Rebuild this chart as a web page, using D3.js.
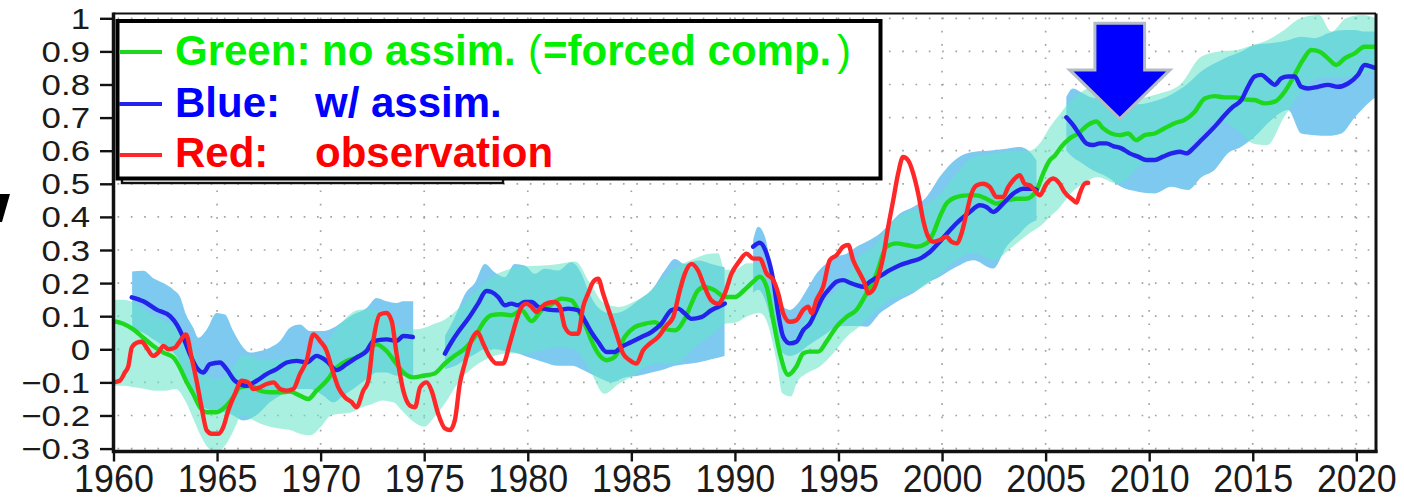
<!DOCTYPE html>
<html>
<head>
<meta charset="utf-8">
<script src="https://cdn.jsdelivr.net/npm/d3@7"></script>
<style>
  html, body { margin: 0; padding: 0; background: #fff; }
  svg { display: block; }
</style>
</head>
<body>
<svg id="chart" width="1404" height="501"></svg>
<script>
// ---------------- data ----------------
const xTicks = [1960, 1965, 1970, 1975, 1980, 1985, 1990, 1995, 2000, 2005, 2010, 2015, 2020];
const yTicks = [-0.3, -0.2, -0.1, 0, 0.1, 0.2, 0.3, 0.4, 0.5, 0.6, 0.7, 0.8, 0.9, 1.0];

// Green: no assimilation (forced component), ensemble mean
const greenYears = [1960.0,1960.47,1960.96,1961.44,1961.92,1962.41,1962.89,1963.2,1963.5,1963.85,
  1964.17,1964.5,1964.98,1965.38,1965.78,1966.1,1966.6,1967.07,1967.55,1968.04,
  1968.52,1969.0,1969.4,1969.8,1970.29,1970.77,1971.25,1971.73,1972.22,1972.7,
  1973.18,1973.67,1973.99,1974.47,1974.95,1975.5,1976.0,1976.5,1976.96,1977.44,
  1977.93,1978.25,1978.73,1979.21,1979.7,1980.18,1980.66,1981.14,1981.63,1982.11,
  1982.43,1982.75,1983.07,1983.4,1983.8,1984.2,1984.68,1985.16,1985.65,1986.13,
  1986.61,1987.1,1987.58,1987.9,1988.22,1988.54,1989.03,1989.51,1990.0,1990.47,
  1990.88,1991.2,1991.53,1991.85,1992.17,1992.57,1992.97,1993.3,1993.62,1994.02,
  1994.42,1994.9,1995.39,1995.87,1996.35,1996.84,1997.32,1997.8,1998.28,1998.77,
  1999.25,1999.57,1999.89,2000.21,2000.7,2001.18,2001.66,2002.14,2002.63,2003.11,
  2003.59,2004.07,2004.56,2004.88,2005.2,2005.44,2005.76,2006.16,2006.57,2007.05,
  2007.45,2007.77,2008.17,2008.58,2008.98,2009.38,2009.78,2010.27,2010.75,2011.23,
  2011.71,2012.2,2012.68,2013.16,2013.64,2014.13,2014.61,2015.09,2015.58,2016.06,
  2016.54,2017.02,2017.42,2017.83,2018.23,2018.63,2019.03,2019.44,2019.92,2020.4,
  2020.95];
const greenValues = [0.085,0.077,0.06,0.035,0.01,-0.01,-0.025,-0.055,-0.095,-0.135,
  -0.175,-0.19,-0.19,-0.175,-0.145,-0.115,-0.11,-0.125,-0.13,-0.13,
  -0.128,-0.14,-0.15,-0.125,-0.095,-0.055,-0.035,-0.025,-0.005,0.015,
  -0.005,-0.045,-0.07,-0.085,-0.08,-0.073,-0.043,-0.018,0.002,0.037,
  0.087,0.103,0.106,0.103,0.118,0.085,0.118,0.136,0.153,0.148,
  0.118,0.077,0.027,-0.013,-0.033,-0.023,0.037,0.067,0.077,0.082,
  0.062,0.057,0.092,0.138,0.178,0.188,0.178,0.158,0.158,0.18,
  0.204,0.219,0.189,0.088,-0.012,-0.077,-0.052,-0.012,-0.007,-0.007,
  0.023,0.068,0.098,0.119,0.169,0.229,0.31,0.32,0.315,0.31,
  0.32,0.35,0.40,0.44,0.46,0.465,0.465,0.455,0.44,0.45,
  0.455,0.455,0.48,0.531,0.571,0.585,0.612,0.637,0.652,0.678,
  0.688,0.668,0.652,0.647,0.652,0.632,0.647,0.652,0.668,0.683,
  0.693,0.718,0.758,0.765,0.761,0.761,0.755,0.753,0.743,0.748,
  0.778,0.829,0.874,0.904,0.899,0.879,0.859,0.879,0.894,0.914,
  0.914];

// Green ensemble spread
const greenBandYears = [1960.0,1960.5,1961.0,1961.5,1962.0,1962.5,1963.0,1963.5,1963.85,1964.2,
  1964.6,1965.0,1965.4,1965.8,1966.2,1966.6,1967.1,1967.6,1968.1,1968.6,
  1969.0,1969.5,1970.0,1970.5,1971.0,1971.5,1972.0,1972.5,1973.0,1973.5,
  1974.0,1974.5,1975.0,1975.5,1976.0,1976.6,1977.4,1978.25,1979.0,1979.7,
  1980.7,1981.5,1982.3,1983.0,1983.7,1984.4,1985.0,1985.7,1986.3,1987.2,
  1987.9,1988.7,1989.2,1989.5,1990.0,1990.6,1991.2,1991.5,1992.0,1992.3,
  1992.7,1993.0,1993.5,1994.1,1994.75,1995.4,1996.0,1996.7,1997.5,1998.3,
  1999.1,1999.9,2000.7,2001.5,2002.5,2003.4,2004.2,2004.7,2005.2,2005.7,
  2006.2,2006.8,2007.5,2008.5,2009.5,2010.5,2011.5,2012.5,2013.3,2014.3,
  2015.0,2015.7,2016.5,2017.3,2018.2,2018.8,2019.5,2020.3,2020.95];
const greenBandLow = [-0.11,-0.11,-0.115,-0.12,-0.125,-0.125,-0.12,-0.16,-0.21,-0.26,
  -0.30,-0.31,-0.29,-0.245,-0.20,-0.21,-0.225,-0.235,-0.24,-0.245,
  -0.255,-0.26,-0.235,-0.20,-0.195,-0.19,-0.175,-0.165,-0.155,-0.16,
  -0.19,-0.22,-0.234,-0.204,-0.164,-0.104,-0.053,-0.023,-0.013,-0.013,
  -0.003,0.007,-0.003,-0.063,-0.134,-0.104,-0.083,-0.053,-0.043,-0.043,
  -0.003,0.037,0.06,0.077,0.08,0.10,0.11,0.09,-0.032,-0.133,
  -0.143,-0.10,-0.072,-0.052,-0.012,0.038,0.068,0.109,0.149,0.169,
  0.189,0.229,0.27,0.29,0.27,0.31,0.35,0.37,0.40,0.43,
  0.47,0.50,0.52,0.50,0.55,0.58,0.59,0.65,0.693,0.66,
  0.622,0.617,0.70,0.773,0.82,0.823,0.823,0.83,0.84];
const greenBandHigh = [0.15,0.15,0.14,0.12,0.10,0.085,0.07,0.04,0.0,-0.05,
  -0.08,-0.09,-0.08,-0.05,-0.02,-0.02,-0.03,-0.03,-0.03,-0.02,
  -0.03,-0.04,-0.01,0.04,0.08,0.11,0.12,0.12,0.11,0.08,
  0.06,0.06,0.065,0.077,0.09,0.12,0.17,0.218,0.24,0.25,
  0.253,0.258,0.265,0.20,0.138,0.128,0.14,0.165,0.20,0.25,
  0.27,0.288,0.29,0.24,0.24,0.26,0.26,0.24,0.109,0.04,
  0.028,0.05,0.10,0.129,0.169,0.219,0.28,0.31,0.38,0.415,
  0.43,0.47,0.531,0.581,0.591,0.60,0.60,0.621,0.671,0.712,
  0.75,0.78,0.80,0.78,0.76,0.773,0.80,0.884,0.899,0.905,
  0.919,0.934,0.964,1.0,1.01,0.96,1.0,1.01,1.0];

// Blue: with assimilation; null marks the gap between hindcast runs
const blueYears = [1960.88,1961.44,1962.08,1962.73,1963.05,1963.37,1963.69,1964.01,1964.33,1964.66,
  1965.14,1965.46,1965.86,1966.43,1966.91,1967.39,1967.87,1968.36,1968.84,1969.32,
  1969.8,1970.28,1970.77,1971.25,1971.73,1972.22,1972.54,1973.18,1973.67,1973.99,
  1974.45, 1975.2,
  1976.0,1976.32,1976.64,1977.12,1977.6,1978.0,1978.25,1978.57,1978.89,1979.21,
  1979.53,1979.86,1980.18,1980.5,1980.98,1981.46,1981.95,1982.43,1982.75,1983.07,
  1983.4,1983.8,1984.2,1984.52,1985.0,1985.49,1985.97,1986.45,1986.93,1987.26,
  1987.58,1987.9,1988.38,1988.86,1989.19,1989.51, 1990.2,
  1990.88,1991.2,1991.53,1991.85,1992.09,1992.33,1992.65,1992.97,1993.3,1993.62,
  1993.94,1994.26,1994.58,1994.9,1995.23,1995.55,1995.87,1996.19,1996.51,1997.0,
  1997.48,1997.96,1998.44,1998.93,1999.41,1999.89,2000.38,2000.86,2001.34,2001.82,
  2002.14,2002.47,2002.95,2003.43,2003.91,2004.4,2004.56, 2005.3,
  2006.0,2006.32,2006.65,2006.97,2007.29,2007.61,2007.93,2008.26,2008.66,2009.06,
  2009.46,2009.86,2010.27,2010.67,2011.07,2011.47,2011.8,2012.12,2012.44,2012.84,
  2013.24,2013.65,2014.05,2014.45,2014.77,2015.09,2015.41,2015.74,2016.06,2016.38,
  2016.7,2017.02,2017.34,2017.67,2018.15,2018.63,2019.11,2019.6,2020.08,2020.4,
  2020.72,2020.95];
const blueValues = [0.157,0.145,0.12,0.10,0.075,0.035,-0.015,-0.055,-0.07,-0.045,
  -0.04,-0.06,-0.095,-0.11,-0.095,-0.075,-0.06,-0.04,-0.035,-0.04,
  -0.02,-0.035,-0.063,-0.045,-0.025,-0.005,0.025,0.03,0.025,0.04,
  0.037, null,
  -0.013,0.022,0.052,0.092,0.138,0.176,0.173,0.158,0.133,0.138,
  0.133,0.143,0.143,0.128,0.12,0.118,0.123,0.118,0.087,0.052,
  0.022,-0.008,-0.008,0.007,0.022,0.037,0.052,0.077,0.118,0.123,
  0.108,0.092,0.097,0.118,0.128,0.138, null,
  0.31,0.322,0.289,0.209,0.109,0.038,0.018,0.023,0.058,0.078,
  0.119,0.159,0.184,0.204,0.209,0.201,0.194,0.189,0.204,0.221,
  0.239,0.254,0.264,0.274,0.294,0.325,0.36,0.39,0.415,0.435,
  0.43,0.415,0.44,0.47,0.485,0.485,0.482, null,
  0.701,0.678,0.648,0.622,0.617,0.622,0.622,0.614,0.607,0.592,
  0.582,0.572,0.572,0.582,0.592,0.597,0.592,0.607,0.627,0.652,
  0.678,0.708,0.733,0.753,0.793,0.824,0.829,0.814,0.799,0.819,
  0.824,0.824,0.793,0.788,0.793,0.799,0.793,0.803,0.829,0.859,
  0.854,0.849];

// Blue ensemble spread, one run per block
const blueBandYears = [1960.9,1961.44,1961.92,1962.41,1962.89,1963.2,1963.5,1963.85,1964.1,1964.5,
  1964.98,1965.38,1965.78,1966.27,1966.6,1967.07,1967.55,1968.04,1968.52,1969.0,
  1969.48,1970.13,1970.61,1971.09,1971.57,1972.22,1972.7,1973.18,1973.67,1973.99,
  1974.47, 1975.2,
  1976.0,1976.5,1977.0,1977.44,1977.93,1978.4,1978.89,1979.37,1979.86,1980.34,
  1980.82,1981.46,1982.11,1982.59,1982.91,1983.24,1983.56,1984.04,1984.68,1985.33,
  1985.97,1986.61,1987.1,1987.58,1988.22,1988.86,1989.5, 1990.2,
  1990.88,1991.12,1991.45,1991.69,1992.01,1992.33,1992.65,1993.05,1993.46,1993.94,
  1994.42,1994.9,1995.39,1995.87,1996.35,1997.0,1997.48,1997.96,1998.6,1999.25,
  1999.89,2000.7,2001.5,2002.47,2003.11,2003.75,2004.24,2004.56, 2005.3,
  2006.0,2006.32,2006.81,2007.3,2008.0,2008.66,2009.46,2010.27,2011.07,2011.87,
  2012.52,2013.16,2013.8,2014.45,2015.09,2015.9,2016.7,2017.34,2017.99,2018.63,
  2019.28,2019.92,2020.4,2020.95];
const blueBandLow = [0.06,0.05,0.03,0.01,-0.01,-0.04,-0.09,-0.14,-0.17,-0.18,
  -0.19,-0.19,-0.2,-0.215,-0.21,-0.19,-0.16,-0.14,-0.12,-0.12,
  -0.12,-0.14,-0.16,-0.14,-0.12,-0.09,-0.07,-0.07,-0.08,-0.08,
  -0.08, null,
  -0.06,-0.05,-0.03,-0.015,0.0,0.0,-0.005,-0.01,-0.02,-0.03,
  -0.04,-0.05,-0.05,-0.06,-0.07,-0.08,-0.09,-0.10,-0.085,-0.08,
  -0.07,-0.06,-0.05,-0.045,-0.04,-0.03,-0.02, null,
  0.17,0.18,0.15,0.10,0.02,-0.012,-0.02,-0.012,0.008,0.028,
  0.048,0.068,0.07,0.07,0.068,0.109,0.13,0.149,0.169,0.199,
  0.219,0.249,0.269,0.244,0.31,0.35,0.38,0.39, null,
  0.60,0.58,0.56,0.54,0.52,0.49,0.476,0.471,0.491,0.481,
  0.52,0.542,0.592,0.612,0.642,0.693,0.723,0.652,0.647,0.645,
  0.652,0.70,0.733,0.763];
const blueBandHigh = [0.235,0.237,0.215,0.20,0.18,0.16,0.105,0.065,0.035,0.06,
  0.11,0.105,0.055,0.005,-0.01,-0.005,0.005,0.025,0.065,0.075,
  0.055,0.055,0.065,0.085,0.105,0.125,0.155,0.145,0.14,0.145,
  0.145, null,
  0.04,0.10,0.17,0.20,0.258,0.233,0.218,0.258,0.253,0.228,
  0.243,0.238,0.263,0.228,0.178,0.138,0.118,0.108,0.118,0.148,
  0.178,0.238,0.273,0.258,0.268,0.258,0.248, null,
  0.33,0.37,0.34,0.269,0.169,0.129,0.119,0.139,0.179,0.229,
  0.259,0.28,0.289,0.31,0.325,0.35,0.38,0.41,0.43,0.46,
  0.521,0.576,0.596,0.601,0.606,0.611,0.596,0.571, null,
  0.762,0.788,0.773,0.76,0.76,0.75,0.74,0.75,0.77,0.803,
  0.84,0.864,0.884,0.90,0.919,0.925,0.934,0.944,0.94,0.955,
  0.964,0.965,0.96,0.96];

// Red: observation
const redYears = [1960.0,1960.3,1960.55,1960.72,1960.88,1961.12,1961.36,1961.6,1961.92,1962.16,
  1962.41,1962.65,1962.97,1963.21,1963.5,1963.77,1964.01,1964.25,1964.5,1964.74,
  1965.06,1965.3,1965.54,1965.86,1966.19,1966.51,1966.75,1967.07,1967.39,1967.72,
  1968.04,1968.36,1968.68,1969.0,1969.32,1969.65,1969.97,1970.29,1970.53,1970.85,
  1971.17,1971.5,1971.73,1972.06,1972.3,1972.54,1972.86,1973.18,1973.43,1973.67,
  1973.99,1974.31,1974.56,1974.8,1975.12,1975.35,1975.67,1976.0,1976.24,1976.48,
  1976.72,1976.96,1977.28,1977.57,1977.85,1978.17,1978.49,1978.81,1979.13,1979.45,
  1979.7,1979.94,1980.18,1980.42,1980.66,1980.98,1981.3,1981.55,1981.79,1982.11,
  1982.43,1982.67,1982.91,1983.15,1983.4,1983.64,1983.96,1984.28,1984.6,1984.92,
  1985.25,1985.57,1985.89,1986.29,1986.7,1987.02,1987.34,1987.58,1987.9,1988.22,
  1988.54,1988.86,1989.19,1989.51,1989.83,1990.2,1990.56,1990.88,1991.2,1991.53,
  1991.85,1992.09,1992.33,1992.65,1992.97,1993.3,1993.54,1993.7,1993.94,1994.26,
  1994.58,1994.9,1995.23,1995.47,1995.71,1996.03,1996.27,1996.43,1996.67,1996.92,
  1997.16,1997.4,1997.64,1997.88,1998.12,1998.36,1998.61,1998.85,1999.09,1999.33,
  1999.57,1999.89,2000.21,2000.45,2000.7,2000.94,2001.18,2001.42,2001.66,2001.98,
  2002.31,2002.63,2002.95,2003.19,2003.43,2003.75,2003.99,2004.24,2004.48,2004.72,
  2005.04,2005.36,2005.68,2005.9,2006.32,2006.49,2006.65,2006.89,2007.05];
const redValues = [-0.10,-0.095,-0.07,-0.05,0.005,0.02,0.023,0.005,-0.02,-0.01,
  0.01,0.0,0.005,0.025,0.045,-0.025,-0.095,-0.175,-0.245,-0.255,
  -0.255,-0.235,-0.185,-0.135,-0.095,-0.10,-0.12,-0.115,-0.105,-0.10,
  -0.12,-0.125,-0.12,-0.075,-0.035,0.045,0.025,-0.005,-0.055,-0.115,
  -0.145,-0.16,-0.175,-0.125,-0.095,0.025,0.105,0.11,0.085,-0.015,
  -0.125,-0.17,-0.175,-0.115,-0.10,-0.124,-0.194,-0.239,-0.244,-0.214,
  -0.104,-0.043,0.027,0.052,0.017,-0.023,-0.043,-0.043,0.017,0.087,
  0.128,0.138,0.128,0.113,0.128,0.14,0.143,0.128,0.067,0.047,
  0.047,0.128,0.168,0.203,0.213,0.168,0.108,0.047,-0.013,-0.033,
  -0.043,-0.003,0.017,0.037,0.072,0.097,0.178,0.228,0.258,0.238,
  0.188,0.148,0.138,0.168,0.228,0.265,0.289,0.274,0.274,0.229,
  0.209,0.169,0.109,0.083,0.088,0.119,0.129,0.109,0.149,0.189,
  0.269,0.284,0.31,0.315,0.269,0.229,0.199,0.169,0.179,0.219,
  0.279,0.37,0.45,0.531,0.581,0.571,0.531,0.47,0.39,0.34,
  0.325,0.33,0.34,0.325,0.32,0.35,0.41,0.47,0.495,0.50,
  0.49,0.46,0.46,0.49,0.51,0.526,0.50,0.495,0.48,0.465,
  0.50,0.516,0.50,0.476,0.451,0.443,0.471,0.501,0.503];

// ---------------- layout ----------------
const svg = d3.select("#chart");
const plot = { left: 113.5, right: 1376, top: 13.5, bottom: 451.5 };

const x = d3.scaleLinear().domain([1960, 2020.95]).range([plot.left, plot.right]);
const y = d3.scaleLinear().domain([-0.3088, 1.0145]).range([plot.bottom, plot.top]);

const COLORS = {
  greenLine: "#1ed81e",
  blueLine: "#2323ec",
  redLine: "#ff2828",
  greenBand: "rgb(100,228,200)",
  blueBand: "rgb(125,201,240)",
  greenText: "#00f000",
  blueText: "#0000ff",
  redText: "#ff0000"
};

function pairs(xs, ys) {
  const n = Math.min(xs.length, ys.length);
  return d3.range(n).map(i => ({ t: xs[i], v: ys[i] }));
}
function bandRows(xs, lo, hi) {
  const n = Math.min(xs.length, lo.length, hi.length);
  return d3.range(n).map(i => ({ t: xs[i], lo: lo[i], hi: hi[i] }));
}

svg.append("defs").append("clipPath").attr("id", "plotClip")
  .append("rect")
  .attr("x", plot.left).attr("y", plot.top)
  .attr("width", plot.right - plot.left).attr("height", plot.bottom - plot.top);

// dotted grid
const grid = svg.append("g").attr("stroke", "#a3a3a3").attr("stroke-width", 1.7)
  .attr("stroke-dasharray", "1.7,11.6");
grid.selectAll("line.h").data(yTicks).join("line").attr("class", "h")
  .attr("x1", plot.left + 4).attr("x2", plot.right)
  .attr("y1", d => y(d)).attr("y2", d => y(d));
grid.selectAll("line.v").data(xTicks.slice(1)).join("line").attr("class", "v")
  .attr("x1", d => x(d)).attr("x2", d => x(d))
  .attr("y1", plot.top + 4).attr("y2", plot.bottom);

// ensemble spreads
const plotG = svg.append("g").attr("clip-path", "url(#plotClip)");

const area = d3.area()
  .defined(d => d.lo != null && d.hi != null)
  .x(d => x(d.t)).y0(d => y(d.lo)).y1(d => y(d.hi))
  .curve(d3.curveMonotoneX);

plotG.append("path")
  .datum(bandRows(blueBandYears, blueBandLow, blueBandHigh))
  .attr("fill", COLORS.blueBand).attr("d", area);

plotG.append("path")
  .datum(bandRows(greenBandYears, greenBandLow, greenBandHigh))
  .attr("fill", COLORS.greenBand).attr("fill-opacity", 0.55).attr("d", area);

// series lines
const line = d3.line()
  .defined(d => d.v != null)
  .x(d => x(d.t)).y(d => y(d.v))
  .curve(d3.curveMonotoneX);

const series = [
  { data: pairs(greenYears, greenValues), color: COLORS.greenLine },
  { data: pairs(blueYears, blueValues), color: COLORS.blueLine },
  { data: pairs(redYears, redValues), color: COLORS.redLine }
];
plotG.selectAll("path.series").data(series).join("path").attr("class", "series")
  .attr("fill", "none")
  .attr("stroke", d => d.color)
  .attr("stroke-width", 4.4)
  .attr("stroke-linejoin", "round")
  .attr("stroke-linecap", "round")
  .attr("d", d => line(d.data));

// axes
const fmtY = v => {
  if (Math.abs(v) < 1e-9) return "0";
  if (Math.abs(v - 1) < 1e-9) return "1";
  return (v < 0 ? "\u2212" : "") + Math.abs(v).toFixed(1);
};

const yAxis = svg.append("g").attr("transform", `translate(${plot.left},0)`)
  .call(d3.axisLeft(y).tickValues(yTicks).tickSize(13.5).tickFormat(fmtY));
yAxis.select(".domain").remove();
yAxis.selectAll(".tick line").attr("stroke", "#111").attr("stroke-width", 2.4);
yAxis.selectAll(".tick text")
  .attr("font-family", "'Liberation Sans', Arial, sans-serif")
  .attr("font-size", 29.5)
  .attr("fill", "#1b1b1b")
  .attr("x", -23.5 / 1.18)
  .attr("dy", "0.34em")
  .attr("transform", "scale(1.18,1)");

const xAxis = svg.append("g").attr("transform", `translate(0,${plot.bottom})`)
  .call(d3.axisBottom(x).tickValues(xTicks).tickSize(10).tickFormat(d3.format("d")));
xAxis.select(".domain").remove();
xAxis.selectAll(".tick line").attr("stroke", "#111").attr("stroke-width", 2.4);
xAxis.selectAll(".tick text")
  .attr("font-family", "'Liberation Sans', Arial, sans-serif")
  .attr("font-size", 39)
  .attr("fill", "#1b1b1b")
  .attr("y", 41)
  .attr("dy", 0)
  .attr("transform", "scale(0.92,1)");

// frame
const frame = svg.append("g").attr("stroke", "#111").attr("fill", "none");
frame.append("line").attr("x1", plot.left).attr("x2", plot.right)
  .attr("y1", plot.top).attr("y2", plot.top).attr("stroke-width", 2);
frame.append("line").attr("x1", plot.right).attr("x2", plot.right)
  .attr("y1", plot.top).attr("y2", plot.bottom + 1.5).attr("stroke-width", 3);
frame.append("line").attr("x1", plot.left).attr("x2", plot.left)
  .attr("y1", plot.top - 1).attr("y2", plot.bottom + 1.5).attr("stroke-width", 3.5);
frame.append("line").attr("x1", plot.left - 1.5).attr("x2", plot.right + 1.5)
  .attr("y1", plot.bottom).attr("y2", plot.bottom).attr("stroke-width", 3.5);

// legend
const legend = svg.append("g");
legend.append("rect").attr("x", 122).attr("y", 26).attr("width", 381).attr("height", 157)
  .attr("fill", "#fff").attr("stroke", "#111").attr("stroke-width", 2.4);
legend.append("rect").attr("x", 117.5).attr("y", 21).attr("width", 763).attr("height", 157.5)
  .attr("fill", "#fff").attr("stroke", "#000").attr("stroke-width", 4);

const legendRows = [
  { color: COLORS.greenLine, y: 52 },
  { color: COLORS.blueLine, y: 104 },
  { color: COLORS.redLine, y: 155 }
];
legend.selectAll("line.key").data(legendRows).join("line").attr("class", "key")
  .attr("x1", 119).attr("x2", 162)
  .attr("y1", d => d.y).attr("y2", d => d.y)
  .attr("stroke", d => d.color).attr("stroke-width", 4);

const boldFont = "'Liberation Sans', Arial, sans-serif";

const tGreen = legend.append("text").attr("y", 65).attr("font-size", 42)
  .attr("fill", COLORS.greenText).attr("font-family", boldFont).attr("font-weight", "bold");
tGreen.append("tspan").attr("x", 175).text("Green: no assim.");
tGreen.append("tspan").attr("x", 528).attr("font-weight", "normal").text("(");
tGreen.append("tspan").attr("x", 543).text("=forced comp.");
tGreen.append("tspan").attr("x", 837).attr("font-weight", "normal").text(")");

const tBlue = legend.append("text").attr("y", 116.5).attr("font-size", 42)
  .attr("fill", COLORS.blueText).attr("font-family", boldFont).attr("font-weight", "bold");
tBlue.append("tspan").attr("x", 175).text("Blue:");
tBlue.append("tspan").attr("x", 315).text("w/ assim.");

const tRed = legend.append("text").attr("y", 167).attr("font-size", 42)
  .attr("fill", COLORS.redText).attr("font-family", boldFont).attr("font-weight", "bold");
tRed.append("tspan").attr("x", 175).text("Red:");
tRed.append("tspan").attr("x", 315).text("observation");

// arrow marking the recent period (positions in data units)
const arrowYear = 2008.58, arrowHalfHead = 2.42, arrowHalfShaft = 1.2;
const arrowTop = 0.985, arrowNeck = 0.844, arrowTip = 0.696;
const arrowPts = [
  [arrowYear - arrowHalfShaft, arrowTop], [arrowYear + arrowHalfShaft, arrowTop],
  [arrowYear + arrowHalfShaft, arrowNeck], [arrowYear + arrowHalfHead, arrowNeck],
  [arrowYear, arrowTip],
  [arrowYear - arrowHalfHead, arrowNeck], [arrowYear - arrowHalfShaft, arrowNeck]
];
svg.append("path")
  .attr("d", d3.line().x(p => x(p[0])).y(p => y(p[1]))(arrowPts) + "Z")
  .attr("fill", "#0000ff")
  .attr("stroke", "#b4bcc6").attr("stroke-width", 3).attr("stroke-linejoin", "miter");

// partial mark at the left edge
svg.append("path").attr("d", "M0,194 L10,194 L2,222 L0,222 Z").attr("fill", "#000");
</script>
</body>
</html>
